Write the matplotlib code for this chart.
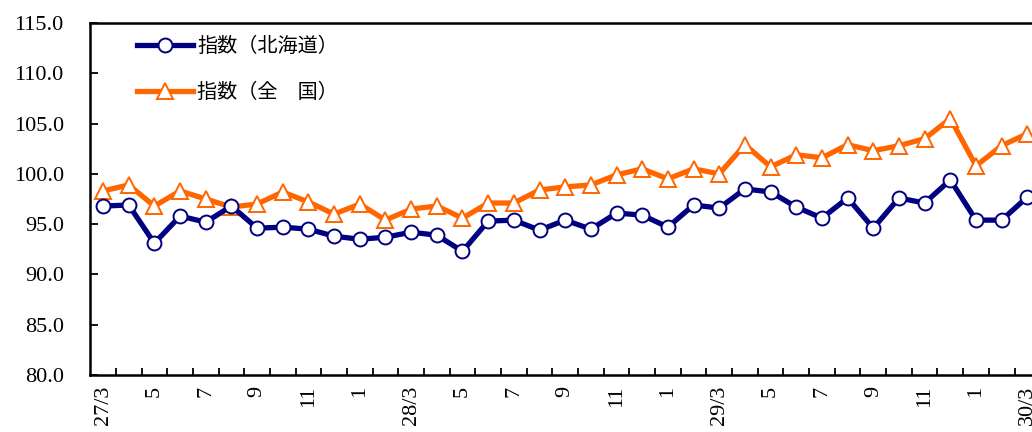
import matplotlib
matplotlib.use("Agg")
import matplotlib.pyplot as plt
from matplotlib.ticker import FixedLocator, FixedFormatter

months = ["27/3", "4", "5", "6", "7", "8", "9", "10", "11", "12", "1", "2",
          "28/3", "4", "5", "6", "7", "8", "9", "10", "11", "12", "1", "2",
          "29/3", "4", "5", "6", "7", "8", "9", "10", "11", "12", "1", "2",
          "30/3"]

hokkaido = [96.8, 96.9, 93.1, 95.8, 95.2, 96.8, 94.6, 94.7, 94.5, 93.8, 93.5, 93.7,
            94.2, 93.9, 92.3, 95.3, 95.4, 94.4, 95.4, 94.5, 96.1, 95.9, 94.7, 96.9,
            96.6, 98.5, 98.2, 96.7, 95.6, 97.6, 94.6, 97.6, 97.1, 99.4, 95.4, 95.4,
            97.7]

zenkoku = [98.3, 98.9, 96.8, 98.3, 97.5, 96.7, 97.0, 98.2, 97.2, 96.0, 97.0, 95.4,
           96.5, 96.8, 95.6, 97.1, 97.1, 98.4, 98.7, 98.9, 99.9, 100.5, 99.5, 100.5,
           100.0, 102.9, 100.7, 101.9, 101.6, 102.9, 102.3, 102.8, 103.5, 105.5, 100.8, 102.8,
           104.0]

label_hokkaido = "指数（北海道）"
label_zenkoku = "指数（全\u3000国）"

y_ticks = [80, 85, 90, 95, 100, 105, 110, 115]

fig = plt.figure(figsize=(10.32, 4.32), dpi=100)
ax = fig.add_axes([90.2 / 1032, 1 - 375 / 432, 950 / 1032, (375 - 23) / 432])

x = list(range(len(months)))
ax.plot(x, hokkaido, color="#000080", lw=3.8, marker="o", ms=10,
        mfc="white", mec="#000080", mew=1.4, label=label_hokkaido, zorder=3)
ax.plot(x, zenkoku, color="#FF6600", lw=3.8, marker="^", ms=11,
        mfc="white", mec="#FF6600", mew=1.4, label=label_zenkoku, zorder=2)

ax.set_xlim(-0.5, len(months) - 0.5)
ax.set_ylim(80, 115)

serif = ["Liberation Serif", "DejaVu Serif"]
ax.set_yticks(y_ticks)
ax.set_yticklabels([f"{v:.1f}" for v in y_ticks], fontfamily=serif, fontsize=16)

# labels at every other month; tick marks between categories
lab_pos = [i for i in x if i % 2 == 0]
ax.xaxis.set_major_locator(FixedLocator(lab_pos))
ax.xaxis.set_major_formatter(FixedFormatter([months[i] for i in lab_pos]))
ax.xaxis.set_minor_locator(FixedLocator([i + 0.5 for i in x]))
for t in ax.get_xticklabels():
    t.set_rotation(90)
    t.set_fontfamily(serif)
    t.set_fontsize(16)
    t.set_va("top")
ax.tick_params(axis="x", which="major", length=0, pad=8)
ax.tick_params(axis="x", which="minor", direction="in", length=5, width=1.3)
ax.tick_params(axis="y", direction="in", length=6, width=1.3, pad=19)

for s in ax.spines.values():
    s.set_linewidth(1.8)
    s.set_color("black")

leg = ax.legend(loc="upper left", bbox_to_anchor=(0.035, 1.0), frameon=False,
                prop={"family": ["Noto Sans CJK JP", "DejaVu Sans"], "size": 14.5},
                handlelength=2.8, labelspacing=1.25, handletextpad=0.2,
                borderaxespad=0.25)

fig.savefig("out.png", dpi=100)
